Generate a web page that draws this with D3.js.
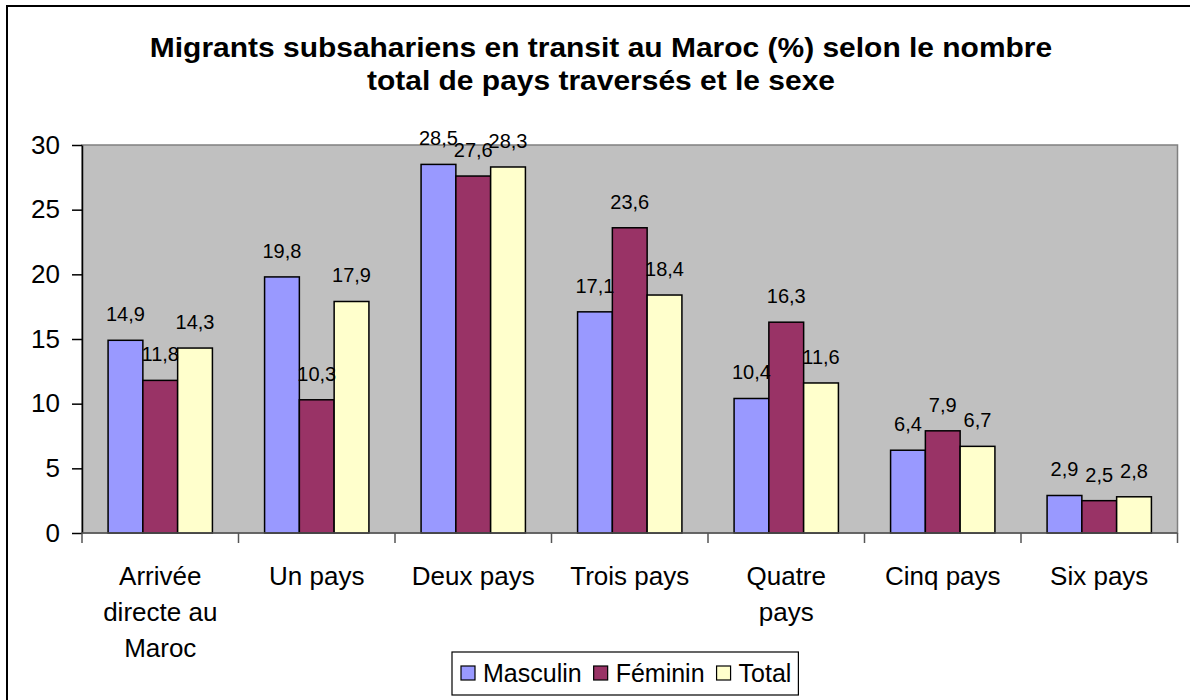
<!DOCTYPE html>
<html>
<head>
<meta charset="utf-8">
<script src="https://cdn.jsdelivr.net/npm/d3@7"></script>
<style>
  body { margin: 0; background: #fff; }
  svg { display: block; font-family: "Liberation Sans", Arial, sans-serif; }
</style>
</head>
<body>
<svg id="chart" width="1190" height="700"></svg>
<script>
// Data
var categories = ['Arrivée directe au Maroc', 'Un pays', 'Deux pays', 'Trois pays',
                  'Quatre pays', 'Cinq pays', 'Six pays'];
var series = ['Masculin', 'Féminin', 'Total'];
var masculin = [14.9, 19.8, 28.5, 17.1, 10.4, 6.4, 2.9];
var feminin  = [11.8, 10.3, 27.6, 23.6, 16.3, 7.9, 2.5];
var total    = [14.3, 17.9, 28.3, 18.4, 11.6, 6.7, 2.8];
var yTicks = [0, 5, 10, 15, 20, 25, 30];
var titleLines = ['Migrants subsahariens en transit au Maroc (%) selon le nombre',
                  'total de pays traversés et le sexe'];

var values = [masculin, feminin, total];
var colors = ['#9999FF', '#993366', '#FFFFCC'];

var svg = d3.select('#chart');

// outer frame (right and bottom edges fall outside the picture)
svg.append('rect')
    .attr('x', 7).attr('y', 6)
    .attr('width', 1200).attr('height', 710)
    .attr('fill', '#fff').attr('stroke', '#000').attr('stroke-width', 2);

// title (slightly stretched horizontally like the original)
svg.append('g')
    .attr('transform', 'translate(601,0) scale(1.11,1)')
    .append('text')
    .attr('text-anchor', 'middle')
    .attr('font-weight', 'bold')
    .attr('font-size', 27)
    .selectAll('tspan')
    .data(titleLines)
    .enter().append('tspan')
    .attr('x', 0)
    .attr('y', function(d, i) { return 57 + i * 33; })
    .text(function(d) { return d; });

var plotLeft = 82, plotRight = 1177.5, plotTop = 145, plotBottom = 533;

var x = d3.scaleBand().domain(categories).range([plotLeft, plotRight]);
var x1 = d3.scaleBand().domain(series).range([0, x.bandwidth()]).paddingOuter(0.75);
var y = d3.scaleLinear().domain([0, 30]).range([plotBottom, plotTop]);

// plot area
svg.append('rect')
    .attr('x', plotLeft).attr('y', plotTop)
    .attr('width', plotRight - plotLeft).attr('height', plotBottom - plotTop)
    .attr('fill', '#C0C0C0').attr('stroke', '#808080').attr('stroke-width', 1.5);

// bars
var rows = categories.map(function(c, i) {
    return { cat: c, vals: series.map(function(s, j) { return { s: s, j: j, v: values[j][i] }; }) };
});

var groups = svg.selectAll('.grp')
    .data(rows)
    .enter().append('g')
    .attr('class', 'grp')
    .attr('transform', function(d) { return 'translate(' + x(d.cat) + ',0)'; });

groups.selectAll('rect')
    .data(function(d) { return d.vals; })
    .enter().append('rect')
    .attr('x', function(d) { return x1(d.s); })
    .attr('y', function(d) { return y(d.v); })
    .attr('width', x1.bandwidth())
    .attr('height', function(d) { return plotBottom - y(d.v); })
    .attr('fill', function(d) { return colors[d.j]; })
    .attr('stroke', '#000')
    .attr('stroke-width', 1.5);

groups.selectAll('text')
    .data(function(d) { return d.vals; })
    .enter().append('text')
    .attr('x', function(d) { return x1(d.s) + x1.bandwidth() / 2; })
    .attr('y', function(d) { return y(d.v) - 19; })
    .attr('text-anchor', 'middle')
    .attr('font-size', 20)
    .text(function(d) { return String(d.v).replace('.', ','); });

// y axis
var yAxis = svg.append('g')
    .attr('transform', 'translate(' + plotLeft + ',0)')
    .call(d3.axisLeft(y).tickValues(yTicks).tickSize(10).tickPadding(12).tickSizeOuter(0));
yAxis.select('.domain').attr('stroke', '#000').attr('stroke-width', 1.5);
yAxis.selectAll('.tick line').attr('stroke', '#000').attr('stroke-width', 1.5);
yAxis.selectAll('.tick text')
    .attr('font-size', 26)
    .attr('font-family', '"Liberation Sans", Arial, sans-serif')
    .attr('fill', '#000');

// x axis line and boundary ticks
svg.append('line')
    .attr('x1', plotLeft).attr('x2', plotRight)
    .attr('y1', plotBottom).attr('y2', plotBottom)
    .attr('stroke', '#555').attr('stroke-width', 1.5);

var bounds = categories.map(function(c) { return x(c); }).concat([plotRight]);
svg.selectAll('.xtick')
    .data(bounds)
    .enter().append('line')
    .attr('class', 'xtick')
    .attr('x1', function(d) { return d; }).attr('x2', function(d) { return d; })
    .attr('y1', plotBottom).attr('y2', plotBottom + 10)
    .attr('stroke', '#555').attr('stroke-width', 1.5);

// category labels with wrapping
function wrap(sel, width) {
    sel.each(function() {
        var text = d3.select(this);
        var words = text.text().split(/\s+/);
        var cx = text.attr('x');
        var y0 = +text.attr('y');
        text.text(null);
        var line = [];
        var lineNo = 0;
        var tspan = text.append('tspan').attr('x', cx).attr('y', y0);
        words.forEach(function(w) {
            line.push(w);
            tspan.text(line.join(' '));
            if (tspan.node().getComputedTextLength() > width && line.length > 1) {
                line.pop();
                tspan.text(line.join(' '));
                line = [w];
                lineNo++;
                tspan = text.append('tspan').attr('x', cx).attr('y', y0 + lineNo * 36).text(w);
            }
        });
    });
}

svg.selectAll('.cat')
    .data(categories)
    .enter().append('text')
    .attr('class', 'cat')
    .attr('x', function(d) { return x(d) + x.bandwidth() / 2; })
    .attr('y', 585)
    .attr('text-anchor', 'middle')
    .attr('font-size', 26)
    .text(function(d) { return d; })
    .call(wrap, 132);

// legend
var legend = svg.append('g');
var legBox = legend.append('rect')
    .attr('y', 652).attr('height', 43)
    .attr('fill', '#fff').attr('stroke', '#000').attr('stroke-width', 1.2);

var lx = 461;
series.forEach(function(s, i) {
    legend.append('rect')
        .attr('x', lx).attr('y', 666)
        .attr('width', 14).attr('height', 14)
        .attr('fill', colors[i]).attr('stroke', '#000').attr('stroke-width', 1.2);
    var t = legend.append('text')
        .attr('x', lx + 22).attr('y', 682)
        .attr('font-size', 25)
        .text(s);
    lx = lx + 22 + t.node().getComputedTextLength() + 12;
});
legBox.attr('x', 452).attr('width', lx - 12 + 7 - 452);
</script>
</body>
</html>
